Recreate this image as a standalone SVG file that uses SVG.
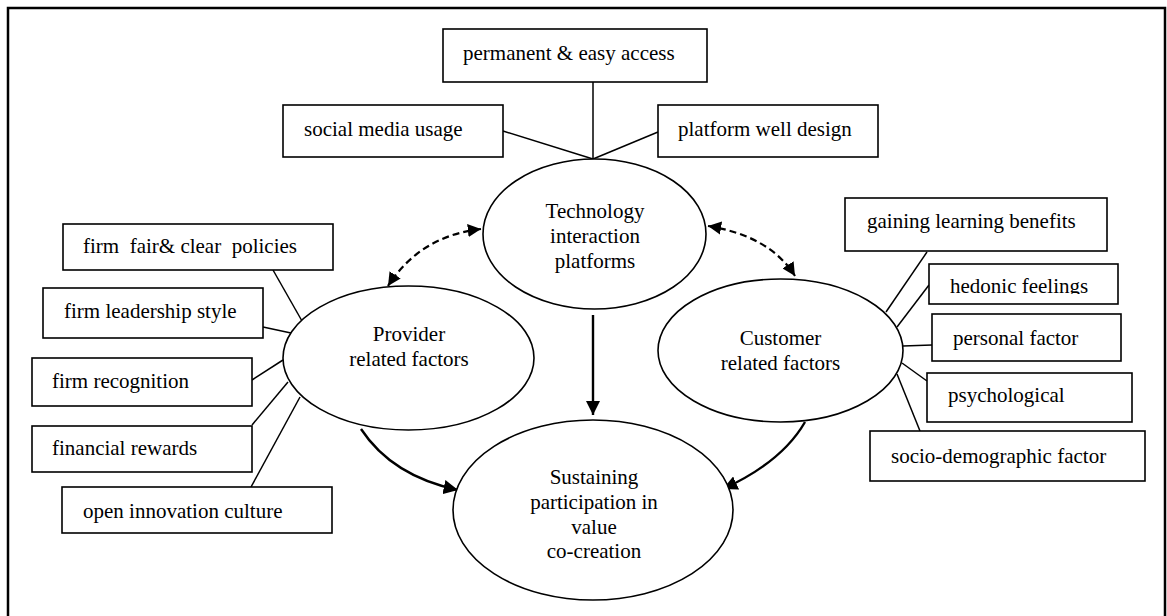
<svg xmlns="http://www.w3.org/2000/svg" width="1167" height="616" viewBox="0 0 1167 616">
  <style>
    .box { fill: #fff; stroke: #000; stroke-width: 1.6; }
    .ell { fill: #fff; stroke: #000; stroke-width: 1.6; }
    .t { font-family: "Liberation Serif", "Times New Roman", serif; font-size: 21px; fill: #000; }
    .c { text-anchor: middle; }
    .link { stroke: #000; stroke-width: 1.5; fill: none; }
    .dash { stroke: #000; stroke-width: 2.2; fill: none; stroke-dasharray: 7 4; }
    .arrow { stroke: #000; stroke-width: 2.4; fill: none; }
  </style>
  <defs>
    <marker id="head" viewBox="0 0 10 10" refX="10" refY="5" markerWidth="6" markerHeight="6" markerUnits="strokeWidth" orient="auto-start-reverse">
      <path d="M0,0 L10,5 L0,10 z" fill="#000"/>
    </marker>
    <clipPath id="clipHedonic">
      <rect x="929" y="264" width="189" height="30"/>
    </clipPath>
  </defs>

  <rect width="1167" height="616" fill="#fff"/>

  <!-- outer frame, open at the bottom -->
  <path d="M8,616 V8 H1165 V616" fill="none" stroke="#000" stroke-width="2.5"/>

  <!-- connectors -->
  <g id="connectors">
    <!-- technology attributes -->
    <line class="link" x1="503" y1="131" x2="593" y2="159"/>
    <line class="link" x1="593" y1="82" x2="593" y2="159"/>
    <line class="link" x1="658" y1="132" x2="593" y2="159"/>
    <!-- provider attributes -->
    <line class="link" x1="273" y1="270" x2="302" y2="321"/>
    <line class="link" x1="263" y1="327" x2="291" y2="333"/>
    <line class="link" x1="252" y1="380" x2="283" y2="360"/>
    <line class="link" x1="252" y1="425" x2="288" y2="382"/>
    <line class="link" x1="251" y1="487" x2="300" y2="397"/>
    <!-- customer attributes -->
    <line class="link" x1="927" y1="252" x2="886" y2="312"/>
    <line class="link" x1="929" y1="285" x2="897" y2="327"/>
    <line class="link" x1="932" y1="345" x2="903" y2="346"/>
    <line class="link" x1="927" y1="381" x2="902" y2="363"/>
    <line class="link" x1="920" y1="431" x2="897" y2="374"/>
    <!-- two-way dashed links -->
    <path class="dash" d="M481,229 Q420,236 388,286" marker-start="url(#head)" marker-end="url(#head)"/>
    <path class="dash" d="M708,226 Q770,236 795,276" marker-start="url(#head)" marker-end="url(#head)"/>
    <!-- effects on sustained participation -->
    <line class="arrow" x1="593" y1="315" x2="593" y2="415" marker-end="url(#head)"/>
    <path class="arrow" d="M361,429 Q392,476 458,490" marker-end="url(#head)"/>
    <path class="arrow" d="M805,422 Q782,462 723,489" marker-end="url(#head)"/>
  </g>

  <!-- technology side -->
  <g id="permanent-access">
    <rect class="box" x="443" y="29" width="264" height="53"/>
    <text class="t" x="463" y="60">permanent &amp; easy access</text>
  </g>
  <g id="social-media">
    <rect class="box" x="283" y="105" width="220" height="52"/>
    <text class="t" x="304" y="136">social media usage</text>
  </g>
  <g id="platform-design">
    <rect class="box" x="658" y="105" width="220" height="52"/>
    <text class="t" x="678" y="136">platform well design</text>
  </g>
  <g id="technology">
    <ellipse class="ell" cx="594.5" cy="234" rx="111.5" ry="75"/>
    <text class="t c" x="595" y="218">Technology</text>
    <text class="t c" x="595" y="243">interaction</text>
    <text class="t c" x="595" y="268">platforms</text>
  </g>

  <!-- provider side -->
  <g id="fair-policies">
    <rect class="box" x="63" y="224" width="270" height="46"/>
    <text class="t" x="83" y="253" xml:space="preserve">firm  fair&amp; clear  policies</text>
  </g>
  <g id="leadership">
    <rect class="box" x="43" y="288" width="220" height="50"/>
    <text class="t" x="64" y="318">firm leadership style</text>
  </g>
  <g id="recognition">
    <rect class="box" x="32" y="358" width="220" height="48"/>
    <text class="t" x="52" y="388">firm recognition</text>
  </g>
  <g id="financial-rewards">
    <rect class="box" x="32" y="426" width="220" height="46"/>
    <text class="t" x="52" y="455">financial rewards</text>
  </g>
  <g id="open-innovation">
    <rect class="box" x="62" y="487" width="270" height="46"/>
    <text class="t" x="83" y="518">open innovation culture</text>
  </g>
  <g id="provider">
    <ellipse class="ell" cx="408.5" cy="358" rx="125.5" ry="72"/>
    <text class="t c" x="409" y="341">Provider</text>
    <text class="t c" x="409" y="366">related factors</text>
  </g>

  <!-- customer side -->
  <g id="learning-benefits">
    <rect class="box" x="845" y="198" width="262" height="53"/>
    <text class="t" x="867" y="228">gaining learning benefits</text>
  </g>
  <g id="hedonic">
    <rect class="box" x="929" y="264" width="189" height="40"/>
    <text class="t" x="950" y="293" clip-path="url(#clipHedonic)">hedonic feelings</text>
  </g>
  <g id="personal">
    <rect class="box" x="932" y="314" width="189" height="47"/>
    <text class="t" x="953" y="345">personal factor</text>
  </g>
  <g id="psychological">
    <rect class="box" x="927" y="373" width="205" height="49"/>
    <text class="t" x="948" y="402">psychological</text>
  </g>
  <g id="socio-demographic">
    <rect class="box" x="870" y="431" width="275" height="50"/>
    <text class="t" x="891" y="463">socio-demographic factor</text>
  </g>
  <g id="customer">
    <ellipse class="ell" cx="780.5" cy="350.5" rx="122.5" ry="71.5"/>
    <text class="t c" x="780.5" y="345">Customer</text>
    <text class="t c" x="780.5" y="370">related factors</text>
  </g>

  <!-- outcome -->
  <g id="sustaining">
    <ellipse class="ell" cx="593" cy="510" rx="140" ry="90"/>
    <text class="t c" x="594" y="484">Sustaining</text>
    <text class="t c" x="594" y="509">participation in</text>
    <text class="t c" x="594" y="534">value</text>
    <text class="t c" x="594" y="558">co-creation</text>
  </g>
</svg>
